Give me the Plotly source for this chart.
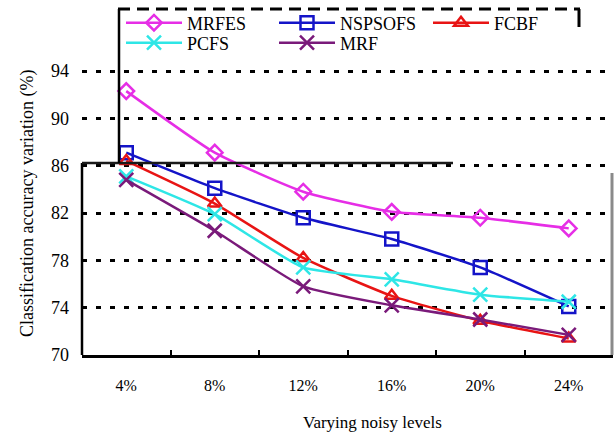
import plotly.graph_objects as go

categories = ["4%", "8%", "12%", "16%", "20%", "24%"]
mrfes = [92.3, 87.1, 83.8, 82.1, 81.6, 80.7]
nspsofs = [87.1, 84.1, 81.6, 79.8, 77.4, 74.1]
fcbf = [86.4, 82.8, 78.2, 75.0, 72.9, 71.4]
pcfs = [85.1, 81.9, 77.4, 76.4, 75.1, 74.5]
mrf = [84.8, 80.5, 75.8, 74.2, 73.0, 71.7]
y_ticks = [70, 74, 78, 82, 86, 90, 94]

series = [
    ("MRFES", mrfes, "#E62EE6", "diamond-open", 12, "legend"),
    ("NSPSOFS", nspsofs, "#1414C8", "square-open", 13, "legend2"),
    ("FCBF", fcbf, "#E81414", "triangle-up-open", 12, "legend3"),
    ("PCFS", pcfs, "#2EE6E6", "x-thin-open", 14, "legend4"),
    ("MRF", mrf, "#7A1A7A", "x-thin-open", 14, "legend5"),
]

FONT = "Liberation Serif"

fig = go.Figure()
for name, vals, col, sym, sz, lg in series:
    fig.add_trace(go.Scatter(
        x=categories, y=vals, name=name, mode="lines+markers", legend=lg,
        line=dict(color=col, width=2.5, shape="spline", smoothing=0.5),
        marker=dict(symbol=sym, size=sz, color=col, line=dict(color=col, width=2.5)),
    ))

# plot area in px
L, R, T, B = 82, 613, 9, 355
W, H = R - L, B - T


def px(xp):
    return (xp - L) / W


def py(yp):
    return (B - yp) / H


shapes = [
    dict(type="line", xref="paper", yref="paper", x0=0, x1=0, y0=0, y1=py(163),
         line=dict(color="black", width=2.5)),
    dict(type="line", xref="paper", yref="paper", x0=0, x1=px(453), y0=py(163), y1=py(163),
         line=dict(color="#1a1a1a", width=2.5)),
    dict(type="line", xref="paper", yref="paper", x0=px(119), x1=px(119), y0=py(163), y1=py(9),
         line=dict(color="black", width=2.5)),
    dict(type="line", xref="paper", yref="paper", x0=px(118), x1=px(580), y0=py(9), y1=py(9),
         line=dict(color="black", width=3, dash="12px,7px")),
    dict(type="line", xref="paper", yref="paper", x0=px(579), x1=px(579), y0=py(9), y1=py(27),
         line=dict(color="black", width=3)),
    dict(type="line", xref="paper", yref="paper", x0=px(612), x1=px(612), y0=0, y1=py(173),
         line=dict(color="#8a8a8a", width=3)),
]

annotations = [
    dict(text="Varying noisy levels", xref="paper", yref="paper",
         x=px(372), y=py(422), showarrow=False, xanchor="center", yanchor="middle",
         font=dict(size=17, family=FONT, color="black")),
    dict(text="Classification accuracy variation (%)", xref="paper", yref="paper",
         x=px(27), y=py(204), showarrow=False, xanchor="center", yanchor="middle",
         textangle=-90, font=dict(size=18, family=FONT, color="black")),
]

legend_common = dict(
    orientation="h", xref="container", yref="container",
    xanchor="left", yanchor="middle",
    font=dict(size=18, family=FONT), bgcolor="rgba(0,0,0,0)",
    itemwidth=56,
)
# (left px, centre-y px) of each legend block
legend_pos = {
    "legend": (121, 23), "legend2": (274, 23), "legend3": (428, 23),
    "legend4": (121, 43), "legend5": (274, 43),
}
legends = {k: dict(x=v[0] / 615, y=1 - v[1] / 432, **legend_common) for k, v in legend_pos.items()}

fig.update_layout(
    width=615, height=432,
    margin=dict(l=L, r=615 - R, t=T, b=432 - B, autoexpand=False),
    paper_bgcolor="white", plot_bgcolor="white",
    font=dict(family=FONT, color="black"),
    shapes=shapes,
    annotations=annotations,
    showlegend=True,
    **legends,
    xaxis=dict(
        type="category", range=[-0.5, 5.5], showgrid=False,
        showline=True, linecolor="black", linewidth=3,
        ticks="inside", tickson="boundaries", ticklen=5, tickwidth=2, tickcolor="black",
        tickfont=dict(size=16, family=FONT), ticklabelstandoff=14,
    ),
    yaxis=dict(
        range=[70, 70 + H / (284 / 24)], tickvals=y_ticks,
        showline=False, zeroline=False,
        showgrid=True, gridcolor="black", gridwidth=3, griddash="5px,9px",
        tickfont=dict(size=18, family=FONT), ticks="", ticklabelstandoff=12,
    ),
)

fig.write_html("out.html")
